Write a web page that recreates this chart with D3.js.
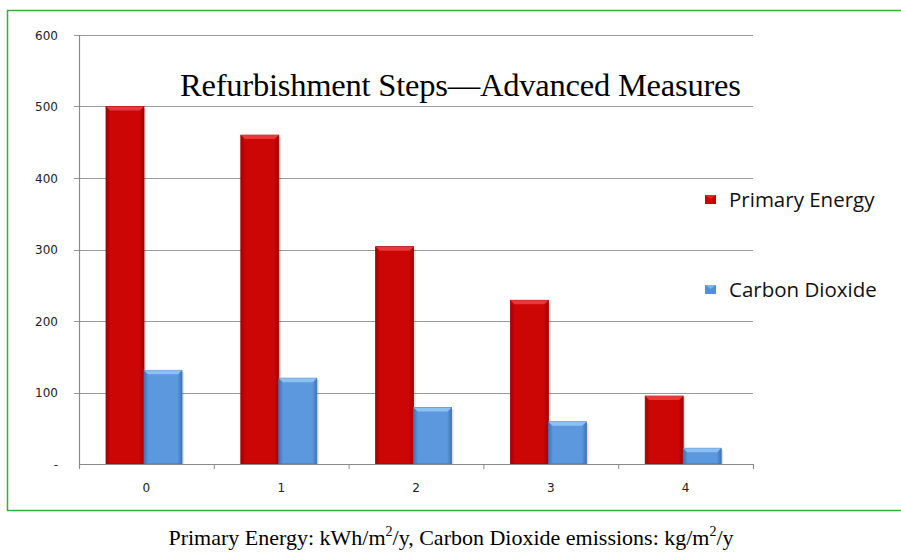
<!DOCTYPE html>
<html>
<head>
<meta charset="utf-8">
<script src="https://cdn.jsdelivr.net/npm/d3@7"></script>
<style>
  body { margin: 0; background: #fff; }
  svg { display: block; }
</style>
</head>
<body>
<svg id="chart" width="901" height="552"></svg>
<script>
// values
var steps = ["0", "1", "2", "3", "4"];
var primaryEnergy = [500, 460, 304, 229, 95];
var carbonDioxide = [131, 120, 79, 59, 22];
var seriesNames = ["Primary Energy", "Carbon Dioxide"];
var yTicks = [0, 100, 200, 300, 400, 500, 600];

var svg = d3.select("#chart");
var margin = {top: 35, left: 79, right: 148, bottom: 88},
    width = 901 - margin.left - margin.right,
    height = 552 - margin.top - margin.bottom;

// green frame
svg.append("path")
    .attr("d", "M905,10.5 H7.5 V510.5 H905")
    .attr("fill", "none")
    .attr("stroke", "#2fb52f")
    .attr("stroke-width", 1.5);

var defs = svg.append("defs");
function barGrad(id, edge, mid) {
    var g = defs.append("linearGradient").attr("id", id)
        .attr("x1", "0%").attr("x2", "100%").attr("y1", "0%").attr("y2", "0%");
    g.append("stop").attr("offset", "0%").attr("stop-color", edge);
    g.append("stop").attr("offset", "12%").attr("stop-color", mid);
    g.append("stop").attr("offset", "88%").attr("stop-color", mid);
    g.append("stop").attr("offset", "100%").attr("stop-color", edge);
}
barGrad("gRed", "#a50000", "#cc0505");
barGrad("gBlue", "#3d74b8", "#5b98de");
var colors = {edge: ["#a50000", "#3d74b8"], top: ["#e83838", "#8cc0f2"], fill: ["url(#gRed)", "url(#gBlue)"], legend: ["#cc0000", "#4f8fdc"]};

var g = svg.append("g").attr("transform", "translate(" + margin.left + "," + margin.top + ")");

var x = d3.scaleBand().domain(steps).range([0, width]).paddingInner(0).paddingOuter(0);
var x1 = d3.scaleBand().domain(seriesNames).range([27, 27 + 76]);
var y = d3.scaleLinear().domain([0, 600]).range([height, 0]);

// gridlines
g.append("g").selectAll("line").data(yTicks.filter(function(d) { return d > 0; }))
    .enter().append("line")
    .attr("x1", -5).attr("x2", width)
    .attr("y1", function(d) { return Math.round(y(d)) + 0.5; })
    .attr("y2", function(d) { return Math.round(y(d)) + 0.5; })
    .attr("stroke", "#9a9a9a").attr("stroke-width", 1.2);

// y labels
g.append("g").selectAll("text").data(yTicks).enter().append("text")
    .attr("x", -21).attr("y", function(d) { return y(d) + 4.5; })
    .attr("text-anchor", "end")
    .style("font-family", "DejaVu Sans, Verdana, sans-serif")
    .style("font-size", "12px")
    .attr("fill", "#222")
    .text(function(d) { return d === 0 ? "-" : d; });

// bars
var data = steps.map(function(s, i) { return {step: s, vals: [primaryEnergy[i], carbonDioxide[i]]}; });
var groups = g.append("g").selectAll("g").data(data).enter().append("g")
    .attr("transform", function(d) { return "translate(" + x(d.step) + ",0)"; });

var bars = groups.selectAll("g.bar").data(function(d) {
        return d.vals.map(function(v, k) { return {name: seriesNames[k], k: k, v: v}; });
    }).enter().append("g").attr("class", "bar");

// soft shadow
bars.append("rect")
    .attr("x", function(d) { return x1(d.name) + 2; })
    .attr("y", function(d) { return y(d.v) + 2; })
    .attr("width", x1.bandwidth())
    .attr("height", function(d) { return height - y(d.v) - 2; })
    .attr("fill", "#000").attr("opacity", 0.12);

bars.append("rect")
    .attr("x", function(d) { return x1(d.name); })
    .attr("y", function(d) { return y(d.v); })
    .attr("width", x1.bandwidth())
    .attr("height", function(d) { return height - y(d.v); })
    .attr("fill", function(d) { return colors.fill[d.k]; })
    .attr("stroke", function(d) { return colors.edge[d.k]; })
    .attr("stroke-width", 0.8);

// top bevel
bars.append("path")
    .attr("d", function(d) {
        var x0 = x1(d.name), w = x1.bandwidth(), t = y(d.v);
        return "M" + x0 + "," + t + " H" + (x0 + w) + " L" + (x0 + w - 4) + "," + (t + 4) + " H" + (x0 + 4) + " Z";
    })
    .attr("fill", function(d) { return colors.top[d.k]; });

// x axis line and ticks
g.append("line").attr("x1", 0).attr("x2", width)
    .attr("y1", height + 0.5).attr("y2", height + 0.5)
    .attr("stroke", "#8a8a8a").attr("stroke-width", 1.2);
g.append("line").attr("x1", 0.5).attr("x2", 0.5)
    .attr("y1", 0).attr("y2", height + 4)
    .attr("stroke", "#8a8a8a").attr("stroke-width", 1.2);
g.append("g").selectAll("line").data(steps.concat(["end"])).enter().append("line")
    .attr("x1", function(d, i) { return i * x.bandwidth() + 0.5; })
    .attr("x2", function(d, i) { return i * x.bandwidth() + 0.5; })
    .attr("y1", height).attr("y2", height + 5)
    .attr("stroke", "#8a8a8a");

g.append("g").selectAll("text").data(steps).enter().append("text")
    .attr("x", function(d) { return x(d) + x.bandwidth() / 2; })
    .attr("y", height + 28)
    .attr("text-anchor", "middle")
    .style("font-family", "DejaVu Sans, Verdana, sans-serif")
    .style("font-size", "12px")
    .attr("fill", "#222")
    .text(function(d) { return d; });

// title
svg.append("text")
    .attr("x", 180).attr("y", 96)
    .style("font-family", "Liberation Serif, Times New Roman, serif")
    .style("font-size", "32.5px")
    .attr("textLength", 561)
    .attr("fill", "#000")
    .text("Refurbishment Steps\u2014Advanced Measures");

// legend
var legend = svg.append("g").selectAll("g").data(seriesNames).enter().append("g")
    .attr("transform", function(d, i) { return "translate(705," + (195 + i * 90) + ")"; });
legend.append("rect").attr("width", 11).attr("height", 9)
    .attr("fill", function(d, i) { return colors.legend[i]; });
legend.append("path").attr("d", "M0,0 H11 L5.5,4 Z")
    .attr("fill", function(d, i) { return colors.top[i]; }).attr("opacity", 0.7);
legend.append("text").attr("x", 24).attr("y", 12)
    .style("font-family", "Open Sans, sans-serif")
    .style("font-size", "20.5px")
    .attr("fill", "#111")
    .text(function(d) { return d; });

// caption
var cap = svg.append("text")
    .attr("x", 451).attr("y", 545)
    .attr("text-anchor", "middle")
    .style("font-family", "Liberation Serif, Times New Roman, serif")
    .style("font-size", "22px")
    .attr("fill", "#000");
cap.append("tspan").text("Primary Energy: kWh/m");
cap.append("tspan").attr("dy", -9).style("font-size", "14px").text("2");
cap.append("tspan").attr("dy", 9).text("/y, Carbon Dioxide emissions: kg/m");
cap.append("tspan").attr("dy", -9).style("font-size", "14px").text("2");
cap.append("tspan").attr("dy", 9).text("/y");
</script>
</body>
</html>
